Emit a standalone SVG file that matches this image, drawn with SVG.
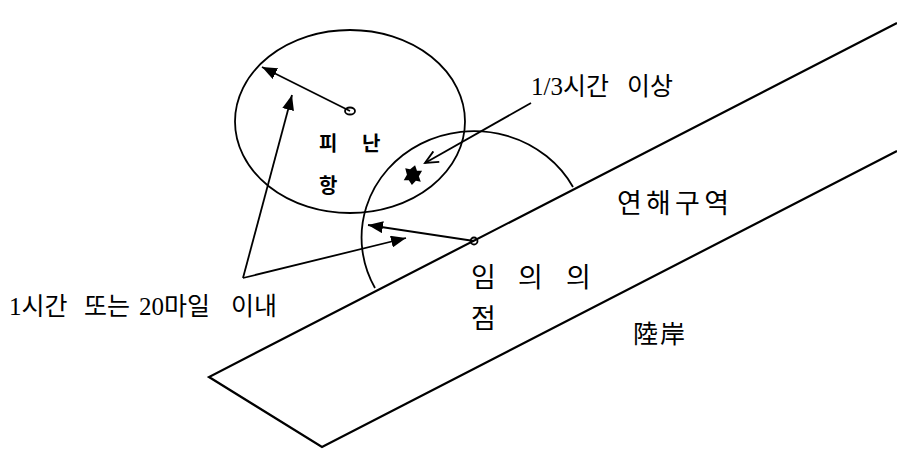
<svg xmlns="http://www.w3.org/2000/svg" width="897" height="449" viewBox="0 0 897 449">
<style>
.ln{fill:none;stroke:#000;stroke-width:1.8}
.thick{fill:none;stroke:#000;stroke-width:2.2}
.t{font-family:"Liberation Serif","Noto Sans CJK KR",sans-serif;fill:#000}
.b{font-weight:bold}
</style>
<defs>
<marker id="ah" markerUnits="userSpaceOnUse" markerWidth="16" markerHeight="12" refX="15" refY="6" orient="auto">
<path d="M0,0 L15,6 L0,12 z" fill="#000"/>
</marker>
<marker id="oh" markerUnits="userSpaceOnUse" markerWidth="16" markerHeight="14" refX="14" refY="7" orient="auto">
<path d="M1,1 L14,7 L1,13" fill="none" stroke="#000" stroke-width="1.8"/>
</marker>
</defs>
<rect width="897" height="449" fill="#fff"/>
<g id="coast">
<polyline class="thick" points="897,23 209,377 322,447 897,151"/>
</g>
<g id="refuge-port">
<ellipse class="ln" cx="350" cy="121.5" rx="115" ry="91.5"/>
<ellipse class="ln" cx="350" cy="111" rx="5" ry="3.5"/>
<text class="t b" font-size="20"><tspan x="319" y="151">피</tspan><tspan x="362" y="151">난</tspan></text>
<text class="t b" x="319" y="193" font-size="20">항</text>
</g>
<g id="point-range">
<path class="ln" d="M375,288 A112 106 0 0 1 573,187"/>
<ellipse class="ln" cx="474" cy="241" rx="3.5" ry="3.5"/>
</g>
<g id="star">
<polygon points="413,165 416,170 421,169 419,175 422,180 417,180 414,185 410,181 405,182 407,176 404,170 409,170" fill="#000" transform="rotate(12 413 175)"/>
</g>
<g id="connectors">
<line class="ln" x1="350" y1="111" x2="262" y2="67" marker-end="url(#ah)"/>
<line class="ln" x1="243" y1="278" x2="292" y2="95" marker-end="url(#ah)"/>
<line class="ln" x1="243" y1="278" x2="406" y2="238" marker-end="url(#ah)"/>
<line class="ln" x1="474" y1="241" x2="368" y2="225" marker-end="url(#ah)"/>
<line class="ln" x1="531" y1="103" x2="425" y2="163" marker-end="url(#oh)"/>
</g>
<g id="labels">
<text class="t" font-size="25"><tspan x="531" y="95">1/3시간</tspan><tspan x="627" y="95">이상</tspan></text>
<text class="t" x="617" y="213" font-size="27" textLength="112" lengthAdjust="spacing">연해구역</text>
<text class="t" font-size="27"><tspan x="471" y="287">임</tspan><tspan x="518" y="287">의</tspan><tspan x="566" y="287">의</tspan></text>
<text class="t" x="471" y="328" font-size="27">점</text>
<text class="t" x="633" y="343" font-size="25" textLength="52" lengthAdjust="spacing">陸岸</text>
<text class="t" font-size="25"><tspan x="9" y="315">1시간</tspan><tspan x="84" y="315">또는</tspan><tspan x="139" y="315">20마일</tspan><tspan x="231" y="315">이내</tspan></text>
</g>
</svg>
